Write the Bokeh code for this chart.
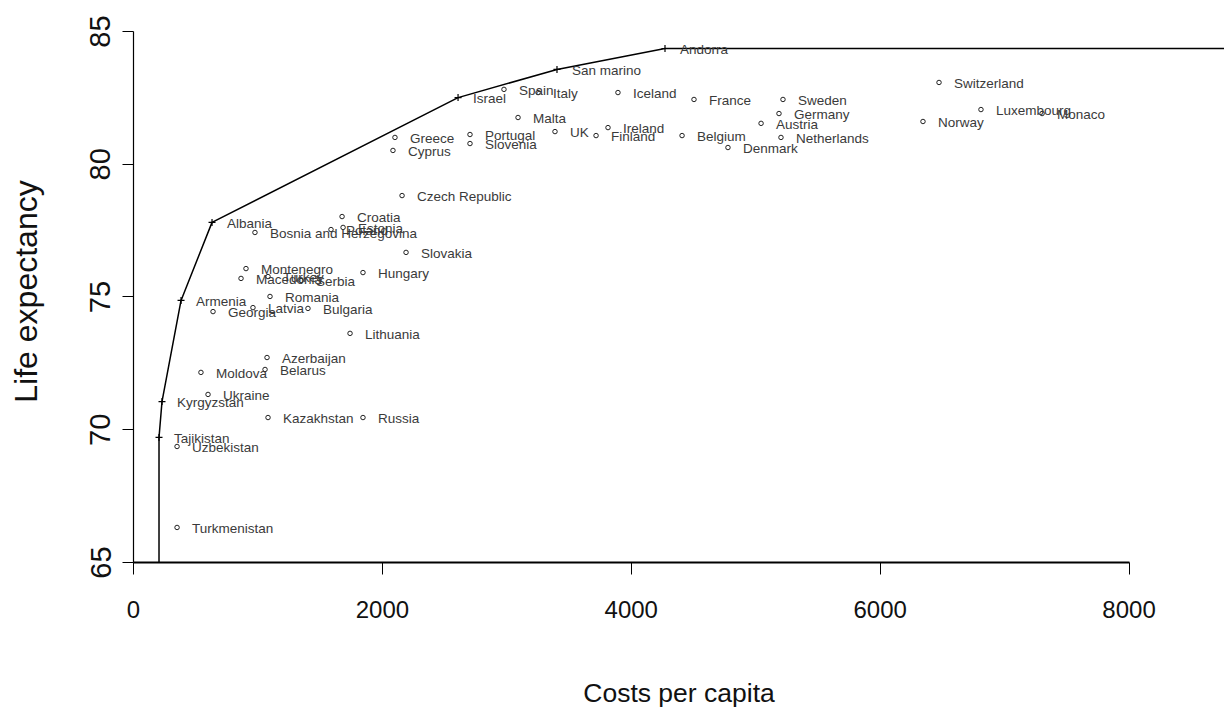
from bokeh.plotting import figure
from bokeh.models import Range1d, LinearAxis, FixedTicker, ColumnDataSource
from bokeh.embed import file_html
from bokeh.resources import INLINE
from bokeh.core.properties import value

# Health spending per head vs. life expectancy, European countries
countries = [
    "Andorra", "San marino", "Israel", "Spain", "Italy", "Iceland", "France",
    "Sweden", "Germany", "Austria", "Netherlands", "Denmark", "Belgium",
    "Switzerland", "Norway", "Luxembourg", "Monaco", "Malta", "UK", "Ireland",
    "Finland", "Greece", "Cyprus", "Portugal", "Slovenia", "Czech Republic",
    "Croatia", "Estonia", "Poland", "Bosnia and Herzegovina", "Albania",
    "Slovakia", "Montenegro", "Macedonia", "Turkey", "Serbia", "Hungary",
    "Armenia", "Georgia", "Latvia", "Romania", "Bulgaria", "Lithuania",
    "Azerbaijan", "Belarus", "Moldova", "Ukraine", "Kyrgyzstan", "Kazakhstan",
    "Russia", "Tajikistan", "Uzbekistan", "Turkmenistan",
]
cost = [
    4271, 3403, 2608, 2977, 3251, 3893, 4504,
    5219, 5187, 5043, 5203, 4777, 4408,
    6473, 6344, 6810, 7301, 3090, 3387, 3813,
    3717, 2101, 2085, 2704, 2704, 2158,
    1676, 1684, 1587, 976, 631,
    2190, 904, 864, 1081, 1346, 1844,
    382, 639, 960, 1097, 1402, 1740,
    1073, 1057, 542, 599, 229, 1081,
    1844, 205, 350, 350,
]
life_exp = [
    84.36, 83.57, 82.51, 82.82, 82.70, 82.70, 82.44,
    82.44, 81.91, 81.54, 81.01, 80.63, 81.08,
    83.08, 81.61, 82.06, 81.91, 81.76, 81.23, 81.38,
    81.08, 81.01, 80.52, 81.12, 80.78, 78.82,
    78.03, 77.62, 77.54, 77.43, 77.81,
    76.68, 76.07, 75.70, 75.77, 75.62, 75.92,
    74.87, 74.45, 74.60, 75.02, 74.57, 73.63,
    72.72, 72.27, 72.16, 71.33, 71.06, 70.46,
    70.46, 69.71, 69.37, 66.32,
]
# efficient countries, in order of rising cost
frontier = ["Tajikistan", "Kyrgyzstan", "Armenia", "Albania", "Israel",
            "San marino", "Andorra"]
x_ticks = [0, 2000, 4000, 6000, 8000]
y_ticks = [65, 70, 75, 80, 85]

X_MAX = 8767
Y_MIN, Y_MAX = 65, 85.414
FONT = "Liberation Sans"

idx = {c: i for i, c in enumerate(countries)}
fx = [cost[idx[c]] for c in frontier]
fy = [life_exp[idx[c]] for c in frontier]
# vertical drop below the cheapest efficient country, flat beyond the best one
line_x = [fx[0]] + fx + [X_MAX * 2]
line_y = [Y_MIN] + fy + [fy[-1]]

others = [c for c in countries if c not in frontier]
src_pts = ColumnDataSource(dict(x=[cost[idx[c]] for c in others],
                                y=[life_exp[idx[c]] for c in others]))
src_lab = ColumnDataSource(dict(x=cost, y=life_exp, t=countries))

p = figure(width=1224, height=713, x_range=Range1d(0, X_MAX),
           y_range=Range1d(Y_MIN, Y_MAX), output_backend="svg",
           toolbar_location=None, x_axis_type=None, y_axis_type=None,
           min_border_left=133, min_border_right=0, min_border_top=20,
           min_border_bottom=151)
p.outline_line_color = None
p.background_fill_color = "white"
p.border_fill_color = "white"

p.line(line_x, line_y, line_color="black", line_width=1.5)
p.scatter(fx, fy, marker="cross", size=7, line_color="black", line_width=1.2)
p.scatter("x", "y", source=src_pts, marker="circle", size=4.5,
          fill_color=None, line_color="#222222", line_width=1)
p.text("x", "y", text="t", source=src_lab, x_offset=15, y_offset=1,
       text_align="left", text_baseline="middle",
       text_font=value(FONT), text_font_size="13.5px",
       text_color="#3a3a3a")

xaxis = LinearAxis(ticker=FixedTicker(ticks=x_ticks, minor_ticks=[]),
                   bounds=(0, 8000), axis_label="Costs per capita")
xaxis.axis_line_width = 2
xaxis.axis_line_color = "black"
xaxis.major_tick_line_color = "black"
xaxis.major_tick_out = 12
xaxis.major_tick_in = 0
xaxis.minor_tick_line_color = None
xaxis.major_label_standoff = 26
xaxis.major_label_text_font = FONT
xaxis.major_label_text_font_size = "24px"
xaxis.major_label_text_color = "#111111"
xaxis.axis_label_standoff = 57
xaxis.axis_label_text_font = FONT
xaxis.axis_label_text_font_size = "26.5px"
xaxis.axis_label_text_font_style = "normal"
xaxis.axis_label_text_color = "#111111"
p.add_layout(xaxis, "below")

yaxis = LinearAxis(ticker=FixedTicker(ticks=y_ticks, minor_ticks=[]),
                   bounds=(65, 85), axis_label="Life expectancy")
yaxis.axis_line_width = 1.2
yaxis.axis_line_color = "black"
yaxis.major_tick_line_color = "black"
yaxis.major_tick_out = 11
yaxis.major_tick_in = 0
yaxis.minor_tick_line_color = None
yaxis.major_label_orientation = "vertical"
yaxis.major_label_standoff = 12
yaxis.major_label_text_font = FONT
yaxis.major_label_text_font_size = "29px"
yaxis.major_label_text_color = "#111111"
yaxis.axis_label_standoff = 44
yaxis.axis_label_text_font = FONT
yaxis.axis_label_text_font_size = "32px"
yaxis.axis_label_text_font_style = "normal"
yaxis.axis_label_text_color = "#111111"
p.add_layout(yaxis, "left")

open("out.html", "w").write(file_html(p, INLINE))
